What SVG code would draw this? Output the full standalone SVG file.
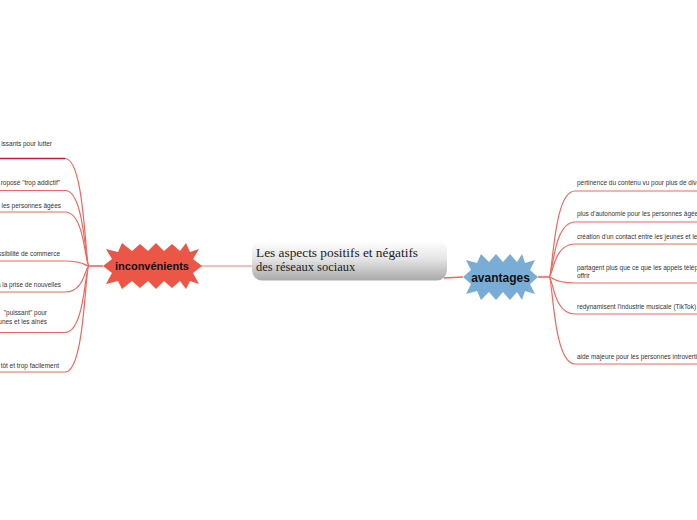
<svg xmlns="http://www.w3.org/2000/svg" width="697" height="520" viewBox="0 0 697 520">
<defs>
<linearGradient id="cg" x1="0" y1="0" x2="0" y2="1">
<stop offset="0" stop-color="#ffffff"/>
<stop offset="0.45" stop-color="#e6e6e6"/>
<stop offset="1" stop-color="#a9a9a9"/>
</linearGradient>
</defs>
<style>
.br{fill:none;stroke:#f3655d;stroke-width:1.2}
.lt{font-family:"Liberation Sans",Arial,sans-serif;font-size:6.45px;fill:#333}
.bt{font-family:"Liberation Sans",Arial,sans-serif;font-weight:bold;fill:#111;text-anchor:middle}
.ct{font-family:"Liberation Serif","Times New Roman",serif;font-size:12.5px;fill:#222}
</style>
<rect width="697" height="520" fill="#ffffff"/>
<g id="connectors">
<line x1="201" y1="266" x2="252" y2="266" stroke="#f7a6a1" stroke-width="1.5"/>
<line x1="444" y1="278" x2="463" y2="277" stroke="#f3655d" stroke-width="1.3"/>
<line x1="103" y1="266" x2="89" y2="266" stroke="#f3655d" stroke-width="1.6"/>
<line x1="538" y1="277" x2="549" y2="277" stroke="#f3655d" stroke-width="1.6"/>
<line x1="0" y1="158.5" x2="65" y2="158.5" stroke="#c81a3c" stroke-width="1.4"/>
<path class="br" d="M89 266 C85 266 85 158.5 65 158.5"/>
<path class="br" d="M89 266 C85 266 85 190.5 65 190.5 L0 190.5"/>
<path class="br" d="M89 266 C85 266 85 212 65 212 L0 212"/>
<path class="br" d="M89 266 C85 266 85 261 65 261 L0 261"/>
<path class="br" d="M89 266 C85 266 85 292 65 292 L0 292"/>
<path class="br" d="M89 266 C85 266 85 332.5 65 332.5 L0 332.5"/>
<path class="br" d="M89 266 C85 266 85 372 65 372 L0 372"/>
<path class="br" d="M549 277 C553 277 553 191 575 191 L697 191"/>
<path class="br" d="M549 277 C553 277 553 222 575 222 L697 222"/>
<path class="br" d="M549 277 C553 277 553 244 575 244 L697 244"/>
<path class="br" d="M549 277 C553 277 553 283 575 283 L697 283"/>
<path class="br" d="M549 277 C553 277 553 314 575 314 L697 314"/>
<path class="br" d="M549 277 C553 277 553 364 575 364 L697 364"/>
</g>
<g id="central">
<rect x="252" y="240.5" width="195" height="40" rx="10" fill="url(#cg)"/>
<text class="ct" x="256" y="257" textLength="162" lengthAdjust="spacingAndGlyphs">Les aspects positifs et négatifs</text>
<text class="ct" x="256" y="271">des réseaux sociaux</text>
</g>
<g id="inconvenients">
<polygon fill="#ec5646" points="103,266 112,259 106,249 118,252 122,243 132,251 140,244 148,251 156,243 164,251 172,244 180,251 186,243 190,252 199,249 193,259 202,266 193,273 199,284 190,281 186,289 180,281 172,288 164,281 156,289 148,281 140,288 132,281 122,289 118,281 106,284 112,273"/>
<text class="bt" x="152" y="270" font-size="11">inconvénients</text>
</g>
<g id="avantages">
<polygon fill="#7aadd6" points="463,277 471,270 466,260 477,263 481,254 489,262 496,254 503,262 510,254 517,262 522,254 525,263 535,260 530,270 538,277 530,284 535,294 525,291 522,300 517,292 510,300 503,292 496,300 489,292 481,300 477,291 466,294 471,284"/>
<text class="bt" x="500.5" y="281.5" font-size="12">avantages</text>
</g>
<g id="left-branches" text-anchor="end">
<text class="lt" x="52" y="146">issants pour lutter</text>
<text class="lt" x="60" y="185">roposé "trop addictif"</text>
<text class="lt" x="61" y="208">n les personnes âgées</text>
<text class="lt" x="60" y="256">ssibilité de commerce</text>
<text class="lt" x="61" y="287">à la prise de nouvelles</text>
<text class="lt" x="47" y="315">"puissant" pour</text>
<text class="lt" x="47" y="323.5">unes et les aînés</text>
<text class="lt" x="59" y="368">tôt et trop facilement</text>
</g>
<g id="right-branches">
<text class="lt" x="577" y="185">pertinence du contenu vu pour plus de dive</text>
<text class="lt" x="577" y="215.5">plus d'autonomie pour les personnes âgée</text>
<text class="lt" x="577" y="239">création d'un contact entre les jeunes et les</text>
<text class="lt" x="577" y="270">partagent plus que ce que les appels téléph</text>
<text class="lt" x="577" y="278">offrir</text>
<text class="lt" x="577" y="309">redynamisent l'industrie musicale (TikTok)</text>
<text class="lt" x="577" y="359">aide majeure pour les personnes introverti</text>
</g>
</svg>
